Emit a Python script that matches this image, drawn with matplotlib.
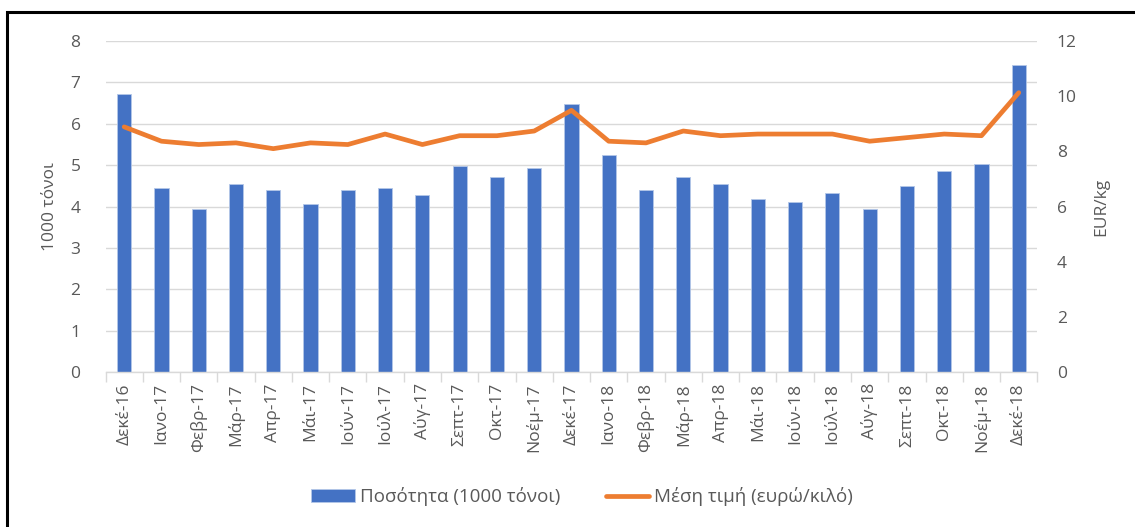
import matplotlib
matplotlib.use("Agg")
import matplotlib.pyplot as plt
from matplotlib.patches import Rectangle
import numpy as np

plt.rcParams['font.family'] = ['Open Sans', 'DejaVu Sans']

categories = ["Δεκέ-16", "Ιανο-17", "Φεβρ-17", "Μάρ-17", "Απρ-17", "Μάι-17", "Ιούν-17",
              "Ιούλ-17", "Αύγ-17", "Σεπτ-17", "Οκτ-17", "Νοέμ-17", "Δεκέ-17", "Ιανο-18",
              "Φεβρ-18", "Μάρ-18", "Απρ-18", "Μάι-18", "Ιούν-18", "Ιούλ-18", "Αύγ-18",
              "Σεπτ-18", "Οκτ-18", "Νοέμ-18", "Δεκέ-18"]
quantity = [6.73, 4.46, 3.93, 4.54, 4.41, 4.06, 4.41, 4.46, 4.28, 4.98, 4.72, 4.93, 6.47,
            5.24, 4.41, 4.72, 4.54, 4.19, 4.11, 4.32, 3.93, 4.49, 4.85, 5.02, 7.42]
price = [8.89, 8.37, 8.25, 8.31, 8.10, 8.31, 8.25, 8.63, 8.25, 8.57, 8.57, 8.74, 9.49,
         8.37, 8.31, 8.74, 8.57, 8.63, 8.63, 8.63, 8.37, 8.50, 8.63, 8.57, 10.13]

bar_label = "Ποσότητα (1000 τόνοι)"
line_label = "Μέση τιμή (ευρώ/κιλό)"

BLUE = "#4472C4"
ORANGE = "#ED7D31"
TXT = "#595959"
GRID = "#D9D9D9"

fig = plt.figure(figsize=(11.35, 5.27), dpi=100)
ax = fig.add_axes([0.093, 0.294, 0.821, 0.628])
ax2 = ax.twinx()

x = np.arange(len(categories))
ax.bar(x, quantity, width=0.38, color=BLUE, edgecolor="#B4C7E7", linewidth=0.6,
       label=bar_label, zorder=2)
ax2.plot(x, price, color=ORANGE, linewidth=3.4, solid_capstyle='round',
         solid_joinstyle='round', label=line_label, zorder=3)

ax.set_xlim(-0.5, len(categories) - 0.5)
ax.set_ylim(0, 8)
ax2.set_ylim(0, 12)
ax.set_yticks(np.arange(0, 9, 1))
ax2.set_yticks(np.arange(0, 13, 2))

ax.yaxis.grid(True, color=GRID, linewidth=1.0, zorder=0)
ax.set_axisbelow(True)

for a in (ax, ax2):
    for s in a.spines.values():
        s.set_visible(False)
ax.spines['bottom'].set_visible(True)
ax.spines['bottom'].set_color(GRID)
ax.spines['bottom'].set_linewidth(1.0)

ax.set_xticks(x)
ax.set_xticklabels(categories, rotation=90, fontsize=12.5, color=TXT)
ax.set_xticks(np.arange(-0.5, len(categories), 1), minor=True)
ax.tick_params(axis='x', which='major', length=0, pad=8)
ax.tick_params(axis='x', which='minor', length=7, color=GRID, width=1.0)
ax.tick_params(axis='y', length=0, labelsize=12.5, labelcolor=TXT, pad=18)
ax2.tick_params(axis='y', length=0, labelsize=12.5, labelcolor=TXT, pad=14)

ax.set_ylabel("1000 τόνοι", fontsize=12.5, color=TXT, labelpad=9)
ax2.set_ylabel("EUR/kg", fontsize=12.5, color=TXT, labelpad=12)

h1, l1 = ax.get_legend_handles_labels()
h2, l2 = ax2.get_legend_handles_labels()
fig.legend(h1 + h2, l1 + l2, loc='center', bbox_to_anchor=(0.513, 0.057), ncol=2,
           frameon=False, fontsize=13.5, labelcolor=TXT, handlelength=2.3,
           handletextpad=0.3, columnspacing=2.4)

fig.patches.append(Rectangle((7 / 1135, -0.05), 1.2, 1 - 12 / 527 + 0.05,
                             transform=fig.transFigure, fill=False,
                             edgecolor='black', linewidth=2.2, clip_on=False))

fig.savefig("out.png", dpi=100)
